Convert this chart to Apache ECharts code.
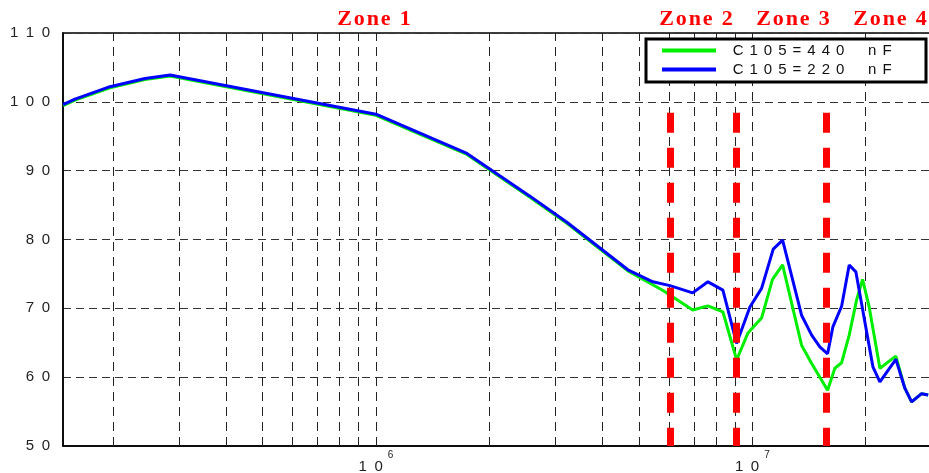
<!DOCTYPE html>
<html>
<head>
<meta charset="utf-8">
<script src="https://cdn.jsdelivr.net/npm/echarts@6/dist/echarts.min.js"></script>
<style>
  html, body { margin: 0; padding: 0; background: #fff; }
  #chart { width: 929px; height: 473px; }
</style>
</head>
<body>
<div id="chart"></div>
<script>
// frequency (Hz) of each point
const freqGreen = [1.475e5, 1.587e5, 1.966e5, 2.435e5, 2.84e5, 1.0e6, 1.745e6, 2.565e6, 3.216e6, 4.67e6,
  5.79e6, 6.94e6, 7.62e6, 8.35e6, 9.08e6, 9.73e6, 1.058e7, 1.131e7, 1.203e7, 1.351e7,
  1.437e7, 1.584e7, 1.656e7, 1.726e7, 1.808e7, 1.891e7, 1.962e7, 2.043e7, 2.181e7, 2.405e7,
  2.541e7, 2.648e7, 2.815e7, 2.931e7];
const c440 = [99.45, 100.25, 102.05, 103.25, 103.75, 98.05, 92.35, 86.15, 82.35, 75.45,
  72.6, 69.75, 70.35, 69.5, 62.5, 66.4, 68.6, 74.2, 76.3, 64.65,
  62.0, 58.1, 61.3, 62.1, 66.1, 71.2, 74.2, 70.2, 61.3, 63.05,
  58.4, 56.4, 57.6, 57.4];

const freqBlue = [1.475e5, 1.587e5, 1.966e5, 2.435e5, 2.84e5, 1.0e6, 1.745e6, 2.565e6, 3.216e6, 4.67e6,
  5.44e6, 6.04e6, 6.94e6, 7.62e6, 8.35e6, 9.08e6, 9.85e6, 1.058e7, 1.136e7, 1.203e7,
  1.351e7, 1.437e7, 1.511e7, 1.584e7, 1.636e7, 1.726e7, 1.808e7, 1.883e7, 2.09e7, 2.181e7,
  2.405e7, 2.541e7, 2.648e7, 2.815e7, 2.931e7];
const c220 = [99.6, 100.4, 102.2, 103.4, 103.9, 98.2, 92.5, 86.3, 82.5, 75.6,
  73.85, 73.3, 72.25, 73.85, 72.65, 64.9, 70.2, 72.9, 78.6, 79.9,
  69.0, 66.1, 64.4, 63.4, 67.3, 70.3, 76.3, 75.3, 61.5, 59.3,
  62.6, 58.4, 56.4, 57.6, 57.4];

const seriesNames = ['C105=440 nF', 'C105=220 nF'];
const xMin = 1.475e5, xMax = 3.0e7;
const yMin = 50, yMax = 110, yStep = 10;
// dashed vertical grid (1..9 x 10^n)
const gridFreqs = [2e5, 3e5, 4e5, 5e5, 6e5, 7e5, 8e5, 9e5, 1e6,
  2e6, 3e6, 4e6, 5e6, 6e6, 7e6, 8e6, 9e6, 1e7, 2e7];
// red zone boundaries
const zoneBounds = [6.04e6, 9.05e6, 1.568e7];
const zoneTop = 98.4;
const zoneLabels = ['Zone 1', 'Zone 2', 'Zone 3', 'Zone 4'];

const font = 'Liberation Sans';
const spaced = s => s.split('').join('\u2002');
const zoneX = [374, 696, 793, 890];

const chart = echarts.init(document.getElementById('chart'));

// zone titles + legend frame
const graphics = zoneLabels.map((t, i) => ({
  type: 'text', x: zoneX[i], y: 19, z: 10,
  style: {
    text: t.split('').join('\u200A'), fill: '#ff0000',
    font: 'bold 22px "Liberation Serif"',
    align: 'center', verticalAlign: 'middle'
  }
}));
graphics.push({
  type: 'rect', z: 3, silent: true,
  shape: { x: 646, y: 39, width: 280, height: 43 },
  style: { fill: '#fff', stroke: '#000', lineWidth: 3 }
});

const option = {
  animation: false,
  backgroundColor: '#fff',
  grid: {
    left: 63, top: 33, right: -3, bottom: 27,
    outerBoundsMode: 'none', containLabel: false,
    show: true, borderColor: '#000', borderWidth: 1.5, backgroundColor: '#fff'
  },
  xAxis: {
    type: 'log', logBase: 10, min: xMin, max: xMax,
    axisLine: { show: true, lineStyle: { color: '#000', width: 1.5 } },
    axisTick: { show: false },
    splitLine: { show: false },
    axisLabel: {
      margin: 4,
      formatter: v => {
        const p = Math.log10(v);
        if (Math.abs(p - Math.round(p)) > 1e-6) return '';
        return '{b|1\u20020}{s|\u2002' + Math.round(p) + '}';
      },
      rich: {
        b: { fontSize: 15, lineHeight: 34, fontFamily: font, color: '#222' },
        s: { fontSize: 10, lineHeight: 12, verticalAlign: 'top', fontFamily: font, color: '#222' }
      }
    }
  },
  yAxis: {
    type: 'value', min: yMin, max: yMax, interval: yStep,
    axisLine: { show: true, lineStyle: { color: '#000', width: 1.5 } },
    axisTick: { show: false },
    splitLine: { show: true, lineStyle: { color: '#333', width: 1, type: [8, 5] } },
    axisLabel: {
      margin: 13, fontSize: 15, fontFamily: font, color: '#222',
      formatter: v => spaced(String(v))
    }
  },
  legend: {
    orient: 'vertical', left: 646, top: 39,
    padding: [4, 10, 4, 16], itemGap: 4,
    itemWidth: 54, itemHeight: 4, icon: 'rect',
    backgroundColor: 'transparent', borderWidth: 0,
    textStyle: { fontSize: 15, fontFamily: font, color: '#111' },
    formatter: n => '\u2002 ' + n.split('').map(c => c === ' ' ? '\u2002 ' : c).join('\u2009\u2009'),
    data: seriesNames
  },
  graphic: graphics,
  series: [
    {
      name: seriesNames[0], type: 'line',
      data: freqGreen.map((f, i) => [f, c440[i]]),
      showSymbol: false, symbol: 'none',
      lineStyle: { color: '#00ee00', width: 3 },
      itemStyle: { color: '#00ee00' },
      markLine: {
        silent: true, symbol: 'none', z: 1,
        label: { show: false },
        lineStyle: { color: '#222', width: 1, type: [9, 6] },
        data: gridFreqs.map(f => ({ xAxis: f }))
      }
    },
    {
      name: seriesNames[1], type: 'line',
      data: freqBlue.map((f, i) => [f, c220[i]]),
      showSymbol: false, symbol: 'none',
      lineStyle: { color: '#0000ff', width: 3 },
      itemStyle: { color: '#0000ff' },
      markLine: {
        silent: true, symbol: 'none',
        label: { show: false },
        lineStyle: { color: '#ff0000', width: 7, type: [20, 15] },
        data: zoneBounds.map(f => [{ coord: [f, zoneTop] }, { coord: [f, yMin] }])
      }
    }
  ]
};

chart.setOption(option);
</script>
</body>
</html>
